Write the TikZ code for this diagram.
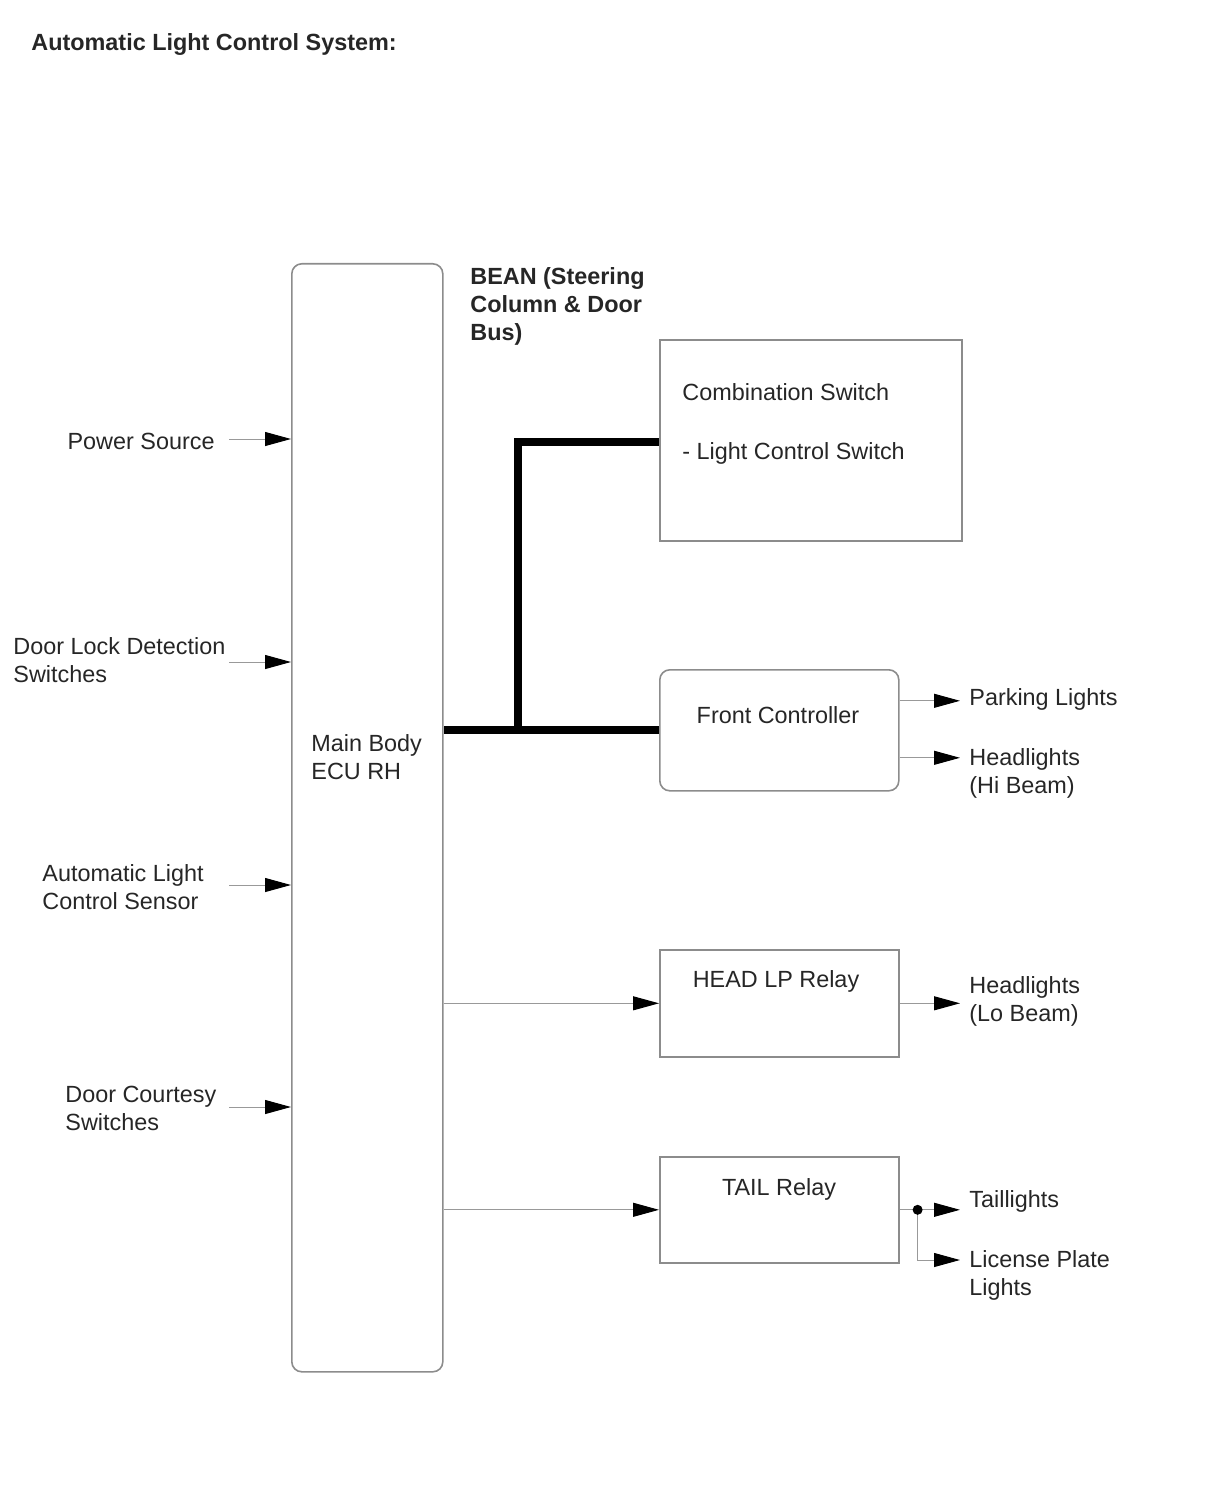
\documentclass[tikz,border=0pt]{standalone}
\usepackage{fontspec}
\setmainfont{Liberation Sans}
\usetikzlibrary{arrows.meta, positioning}

\begin{document}
\begin{tikzpicture}[x=0.5pt, y=-0.5pt,
    every node/.style={font=\fontsize{11.7}{14}\selectfont, text=black!85, inner sep=0pt},
    block/.style={draw=black!45, line width=0.8pt, anchor=north west},
    feed/.style={draw=black!40, line width=0.5pt, -{Triangle[length=13pt, width=7pt, color=black]}},
    bus/.style={line width=4pt, black},
    outlabel/.style={anchor=west, align=left, inner xsep=4.5pt}]
    \useasboundingbox (0,0) rectangle (1210,1498);

    % Title
    \node (title) [anchor=west, font=\fontsize{11.7}{14}\selectfont\bfseries] at (31,45) {Automatic Light Control System:};
    \node (bean) [anchor=west, align=left, font=\fontsize{11.7}{14}\selectfont\bfseries] at (470,306) {BEAN (Steering\\Column \& Door\\Bus)};

    % Main body ECU
    \node (ecu) [block, rounded corners=5pt, minimum width=75.5pt, minimum height=554pt] at (291,263) {};
    \node (ecutext) [anchor=west, align=left] at (311,757) {Main Body\\ECU RH};

    % Right blocks
    \node (combo) [block, minimum width=151pt, minimum height=100.5pt] at (659,339) {};
    \node (combotext) [anchor=west, align=left] at (682,423.5) {Combination Switch\\[15.5pt]- Light Control Switch};
    \node (front) [block, rounded corners=5pt, minimum width=119.5pt, minimum height=60.5pt] at (659,669) {};
    \node (fronttext) at (778,715) {Front Controller};
    \node (head) [block, minimum width=119.5pt, minimum height=53.5pt] at (659,949) {};
    \node (headtext) at (776,981) {HEAD LP Relay};
    \node (tail) [block, minimum width=119.5pt, minimum height=53pt] at (659,1156) {};
    \node (tailtext) at (779,1189) {TAIL Relay};

    % Input labels
    \node (power) [anchor=east] at (215,441) {Power Source};
    \node (doorlock) [anchor=west, align=left] at (13,660) {Door Lock Detection\\Switches};
    \node (sensor) [anchor=west, align=left] at (42,887) {Automatic Light\\Control Sensor};
    \node (courtesy) [anchor=west, align=left] at (65,1108) {Door Courtesy\\Switches};
    \coordinate (inpower) at (229,439);
    \coordinate (indoorlock) at (229,662);
    \coordinate (insensor) at (229,885);
    \coordinate (incourtesy) at (229,1107);

    % Output labels
    \node (parking) [outlabel] at (960,699) {Parking Lights};
    \node (hibeam) [outlabel] at (960,773) {Headlights\\(Hi Beam)};
    \node (lobeam) [outlabel] at (960,1001) {Headlights\\(Lo Beam)};
    \node (taillights) [outlabel] at (960,1201) {Taillights};
    \node (license) [outlabel] at (960,1275) {License Plate\\Lights};

    % Bus
    \coordinate (busjoint) at (518,729);
    \draw[bus] (front.west) -- (front.west -| ecu.east);
    \draw[bus] (busjoint) |- ([yshift=-0.75pt]combo.west);

    % Edges
    \draw[feed] (inpower) -- (inpower -| ecu.west);
    \draw[feed] (indoorlock) -- (indoorlock -| ecu.west);
    \draw[feed] (insensor) -- (insensor -| ecu.west);
    \draw[feed] (incourtesy) -- (incourtesy -| ecu.west);
    \draw[feed] (head.west -| ecu.east) -- (head.west);
    \draw[feed] (tail.west -| ecu.east) -- (tail.west);
    \draw[feed] ([yshift=14.75pt]front.east) -- ([yshift=14.75pt]front.east -| parking.west);
    \draw[feed] ([yshift=-13.75pt]front.east) -- ([yshift=-13.75pt]front.east -| hibeam.west);
    \draw[feed] (head.east) -- (head.east -| lobeam.west);
    \coordinate (tailsplit) at ([xshift=9pt]tail.east);
    \draw[feed] (tail.east) -- (tail.east -| taillights.west);
    \draw[feed] (tailsplit) |- ([yshift=7.5pt]license.west);
    \fill (tailsplit) circle (2.5pt);
\end{tikzpicture}
\end{document}
